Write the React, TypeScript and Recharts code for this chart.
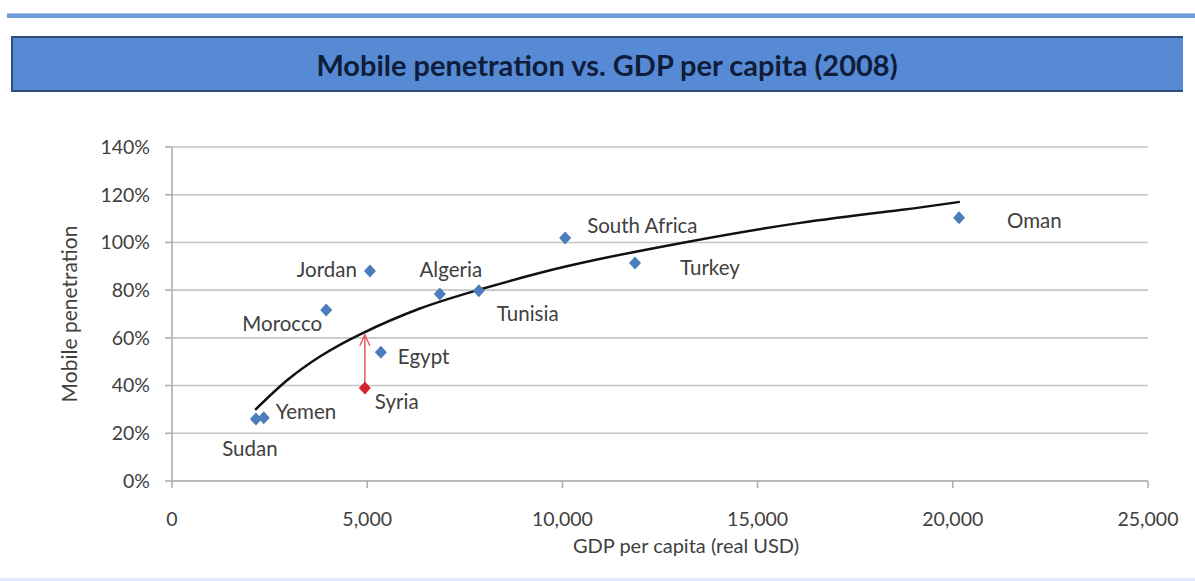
import React from 'react';
import { ComposedChart, XAxis, YAxis, CartesianGrid, Scatter, Line, Label } from 'recharts';

// countries, GDP per capita (real USD) and mobile penetration (%)
const countries = ['Sudan', 'Yemen', 'Morocco', 'Jordan', 'Syria', 'Egypt', 'Algeria', 'Tunisia', 'South Africa', 'Turkey', 'Oman'];
const gdp = [2150, 2350, 3950, 5070, 4940, 5350, 6860, 7860, 10070, 11860, 20160];
const penetration = [26, 26.5, 71.7, 88, 39, 54, 78.4, 79.7, 101.9, 91.4, 110.3];

// trend curve
const trendGdp = [2130, 2940, 3790, 4820, 6350, 7890, 10110, 13090, 16090, 18650, 20180];
const trendValue = [29.8, 42.1, 52.2, 61.5, 72.3, 80.3, 90, 99.9, 108.2, 113.6, 117];

// Syria's gap up to the trend
const gapValue = [39, 61.3];

const xTicks = [0, 5000, 10000, 15000, 20000, 25000];
const yTicks = [0, 20, 40, 60, 80, 100, 120, 140];

const highlight = 'Syria';

const points = countries.map((name, i) => ({ name, x: gdp[i], y: penetration[i] }));
const trend = trendGdp.map((x, i) => ({ x, y: trendValue[i] }));
const syria = points.find((p) => p.name === highlight)!;
const gap = gapValue.map((y, i) => ({ x: syria.x, y, head: i === 1 }));

const FONT = 'Lato, "Liberation Sans", sans-serif';
const TEXT = '#404040';

// label placement around each marker
const labelPos: Record<string, { dx: number; dy: number; anchor: 'start' | 'middle' | 'end' }> = {
  Sudan: { dx: -6, dy: 29, anchor: 'middle' },
  Yemen: { dx: 12, dy: -7, anchor: 'start' },
  Morocco: { dx: -4, dy: 13, anchor: 'end' },
  Jordan: { dx: -13, dy: -2, anchor: 'end' },
  Algeria: { dx: 11, dy: -25, anchor: 'middle' },
  Tunisia: { dx: 18, dy: 22, anchor: 'start' },
  Egypt: { dx: 17, dy: 4, anchor: 'start' },
  Syria: { dx: 10, dy: 13, anchor: 'start' },
  'South Africa': { dx: 22, dy: -13, anchor: 'start' },
  Turkey: { dx: 45, dy: 4, anchor: 'start' },
  Oman: { dx: 48, dy: 2, anchor: 'start' },
};

const Diamond = (props: any) => {
  const { cx, cy, payload } = props;
  if (cx == null || cy == null) return null;
  const fill = payload.name === highlight ? '#d0262c' : '#4a7ebb';
  const pos = labelPos[payload.name];
  return (
    <g>
      <polygon points={`${cx},${cy - 6.5} ${cx + 6},${cy} ${cx},${cy + 6.5} ${cx - 6},${cy}`} fill={fill} />
      {pos && (
        <text
          x={cx + pos.dx}
          y={cy + pos.dy}
          textAnchor={pos.anchor}
          dominantBaseline="central"
          fontFamily={FONT}
          fontSize={20.5}
          fill={TEXT}
        >
          {payload.name}
        </text>
      )}
    </g>
  );
};

const ArrowHead = (props: any) => {
  const { cx, cy, payload } = props;
  if (!payload.head || cx == null) return null;
  return <path d={`M${cx - 5},${cy + 11} L${cx},${cy} L${cx + 5},${cy + 11}`} stroke="#e45a5c" strokeWidth={1.4} fill="none" />;
};

const App: React.FC = () => {
  return (
    <div style={{ position: 'absolute', left: 0, top: 0, width: 1195, height: 581, background: '#fff', overflow: 'hidden' }}>
      <div style={{ position: 'absolute', left: 7, right: 0, top: 13, height: 4, background: '#6f9bd6', borderTop: '1px solid #a9c4e8' }} />
      <div
        style={{
          position: 'absolute',
          left: 11,
          width: 1172,
          top: 36,
          height: 56,
          background: '#568ad5',
          borderTop: '2px solid #2f4f7f',
          borderBottom: '2px solid #2f4f7f',
          borderLeft: '2px solid #2f4f7f',
          display: 'flex',
          alignItems: 'center',
          justifyContent: 'center',
          boxSizing: 'border-box',
          paddingLeft: 18,
          fontFamily: FONT,
          fontWeight: 700,
          fontSize: 29,
          color: '#0f1d3a',
        }}
      >
        Mobile penetration vs. GDP per capita (2008)
      </div>
      <div style={{ position: 'absolute', left: 0, right: 0, top: 578, height: 3, background: '#dbeaf6' }} />
      <div style={{ position: 'absolute', left: 0, top: 0 }}>
        <ComposedChart width={1195} height={581} margin={{ top: 147, right: 47, bottom: 20, left: 92 }}>
          <CartesianGrid horizontal vertical={false} stroke="#c4c4c4" strokeWidth={1.6} />
          <XAxis
            type="number"
            dataKey="x"
            domain={[0, 25000]}
            ticks={xTicks}
            tickFormatter={(v: number) => v.toLocaleString('en-US')}
            axisLine={{ stroke: '#b0b0b0', strokeWidth: 1.6 }}
            tickLine={{ stroke: '#b0b0b0', strokeWidth: 1.6 }}
            tickSize={7}
            tickMargin={24}
            height={80}
            tick={{ fontFamily: FONT, fontSize: 19.5, fill: TEXT }}
          >
            <Label value="GDP per capita (real USD)" position="insideBottom" offset={8} dx={26} style={{ fontFamily: FONT, fontSize: 20, fill: TEXT }} />
          </XAxis>
          <YAxis
            type="number"
            dataKey="y"
            domain={[0, 140]}
            ticks={yTicks}
            tickFormatter={(v: number) => `${v}%`}
            axisLine={{ stroke: '#b0b0b0', strokeWidth: 1.6 }}
            tickLine={{ stroke: '#b0b0b0', strokeWidth: 1.6 }}
            tickSize={7}
            tickMargin={15}
            width={80}
            tick={{ fontFamily: FONT, fontSize: 19.5, fill: TEXT }}
          >
            <Label value="Mobile penetration" angle={-90} position="insideLeft" offset={-22} style={{ fontFamily: FONT, fontSize: 21, fill: TEXT, textAnchor: 'middle' }} />
          </YAxis>
          <Line data={trend} dataKey="y" type="natural" stroke="#111" strokeWidth={2.5} dot={false} activeDot={false} isAnimationActive={false} />
          <Scatter data={gap} dataKey="y" line={{ stroke: '#e45a5c', strokeWidth: 1.5 }} shape={ArrowHead} isAnimationActive={false} />
          <Scatter data={points} dataKey="y" shape={Diamond} isAnimationActive={false} />
        </ComposedChart>
      </div>
    </div>
  );
};

export default App;
